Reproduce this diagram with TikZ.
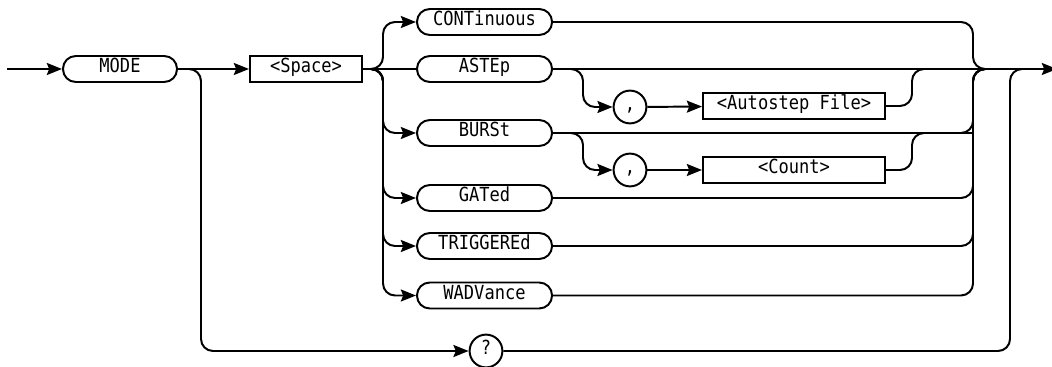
\documentclass[tikz,border=0pt]{standalone}
\usepackage{fontspec}
\setmonofont[FakeStretch=0.88]{DejaVu Sans Mono}
\usetikzlibrary{arrows.meta, positioning}

\begin{document}
\begin{tikzpicture}[
        x=0.025cm, y=-0.025cm,
        line width=1.4pt,
        every node/.style={font=\ttfamily\fontsize{13.8}{15}\selectfont, text height=1.55ex, text depth=0.3ex, inner sep=0pt},
        keyword/.style={draw, rounded corners=0.32cm, minimum height=0.65cm},
        param/.style={draw, rectangle, minimum height=0.64cm},
        sym/.style={draw, circle, minimum size=0.82cm},
        conn/.style={rounded corners=0.3cm},
        flow/.style={conn, -{Stealth[length=0.38cm, width=0.3cm, inset=0.06cm]}},
    ]
        \useasboundingbox (0,0) rectangle (1052,367);

        % nodes
        \node[keyword, minimum width=2.85cm] (mode) at (120,69) {MODE};
        \node[param, minimum width=2.8cm] (space) at (306,69) {<Space>};
        \node[keyword, minimum width=3.375cm] (cont) at (484.5,22) {CONTinuous};
        \node[keyword, minimum width=3.375cm] (astep) at (484.5,69) {ASTEp};
        \node[keyword, minimum width=3.375cm] (burst) at (484.5,133) {BURSt};
        \node[keyword, minimum width=3.375cm] (gated) at (484.5,198) {GATed};
        \node[keyword, minimum width=3.375cm] (trig) at (484.5,246) {TRIGGEREd};
        \node[keyword, minimum width=3.375cm] (wadv) at (484.5,295.5) {WADVance};
        \node[sym] (comma1) at (630,107) {,};
        \node[param, minimum width=4.55cm] (stepfile) at (794,106) {<Autostep File>};
        \node[sym] (comma2) at (630,170) {,};
        \node[param, minimum width=4.55cm] (count) at (794,170) {<Count>};
        \node[sym] (query) at (486,351) {?};

        % turning points
        \coordinate (start) at (7,69);
        \coordinate (finish) at (1057,69);
        \coordinate (lbyp) at (201,69);
        \coordinate (lsplit) at (383,69);
        \coordinate (asplit) at (583,69);
        \coordinate (amerge) at (912,69);
        \coordinate (rcol) at (973,69);
        \coordinate (rbyp) at (1010,69);

        % connectors
        \draw[flow] (start) -- (mode);
        \draw[flow] (mode) -- (space);
        \draw[flow] (mode.east) -| (lbyp |- query) -- (query);
        \draw (space) -- (astep);
        \foreach \n in {cont, burst, gated, trig, wadv}
            \draw[flow] (space.east) -| (lsplit |- \n) -- (\n);

        \draw[flow] (astep.east) -| (asplit |- comma1) -- (comma1);
        \draw[flow] (comma1) -- (stepfile);
        \draw[conn] (stepfile.east) -| (amerge) -- (rcol);
        \draw[flow] (burst.east) -| (asplit |- comma2) -- (comma2);
        \draw[flow] (comma2) -- (count);
        \draw[conn] (count.east) -| (amerge |- burst) -- (rcol |- burst);

        \foreach \n in {cont, burst, gated, trig, wadv}
            \draw[conn] (\n.east) -| (rcol) -- (rbyp);
        \draw[conn] (query.east) -| (rbyp) -- (finish);
        \draw[flow] (astep.east) -- (finish);
    \end{tikzpicture}
\end{document}
